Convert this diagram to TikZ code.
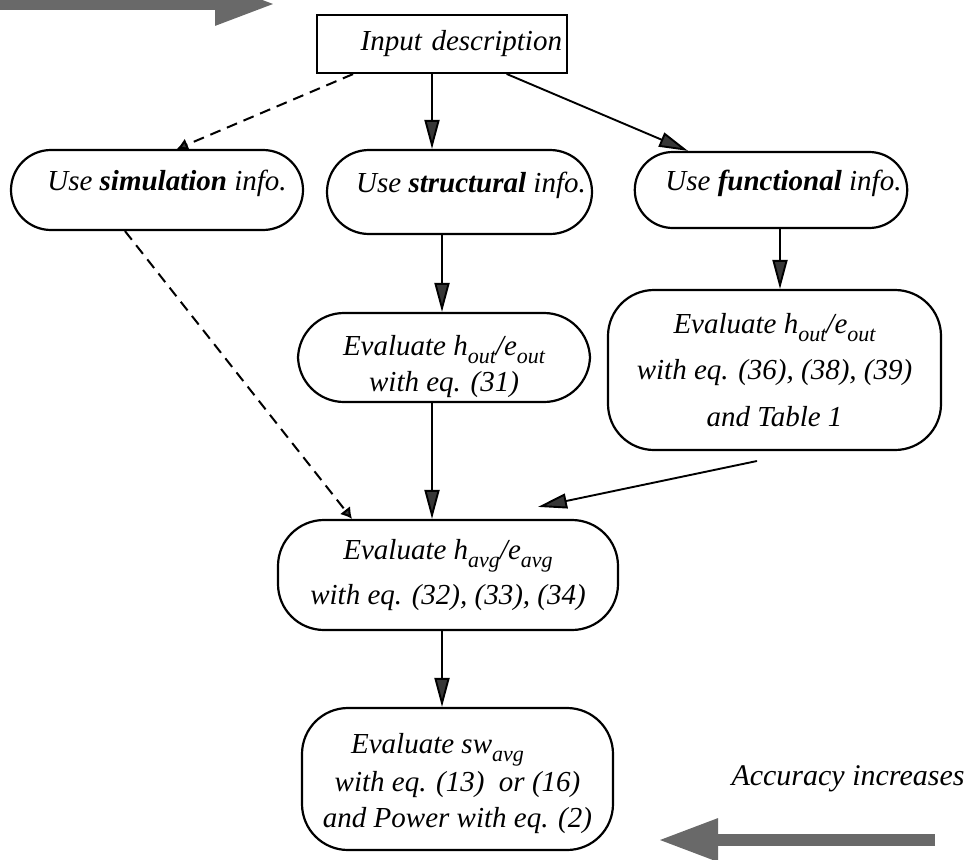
\documentclass[tikz,border=0pt]{standalone}
\usepackage{fontspec}
\setmainfont{Liberation Serif}
\usepackage{tikz}
\usetikzlibrary{calc, positioning, arrows.meta, shapes.misc}
\usepackage{xcolor}
\definecolor{mygray}{RGB}{105, 105, 105}
\definecolor{mydark}{RGB}{55, 55, 55}
\newcommand{\lowsub}[1]{\raisebox{-8pt}{\fontsize{22}{22}\selectfont #1}}

\begin{document}
\begin{tikzpicture}[
    x=1pt, y=1pt,
    font=\fontsize{29}{44}\selectfont\itshape,
    box_style/.style={draw, line width=2.2pt, inner ysep=0pt},
    info_style/.style={box_style, rounded rectangle, inner xsep=0pt,
      text height=20pt, text depth=20pt},
    eval_style/.style={box_style, rounded corners=46pt, align=center},
    arrow_style/.style={line width=1.9pt, line cap=round,
      -{Triangle[length=29pt,width=15pt,fill=mydark]}},
    dash_style/.style={line width=2pt, dash pattern=on 11pt off 7pt,
      -{Latex[length=11pt,width=13pt,fill=mydark]}},
    big_arrow/.style={line width=12pt, mygray,
      -{Triangle[length=60pt,width=40pt]}}
]
    \useasboundingbox (0,0) rectangle (971,-859);

    % --- Entrée ---
    \node[box_style, text width=240pt, inner xsep=5pt,
          minimum height=58pt, align=right] (inp) at (442,-44)
        {Input description};

    % --- Sources d'information ---
    \node[info_style, minimum width=292pt, minimum height=80pt]
        (sim) at (157,-190)
        {\hspace*{20pt}Use \textbf{simulation} info.};
    \node[info_style, minimum width=265pt, minimum height=84pt]
        (struct) at (459.5,-192)
        {\hspace*{23pt}Use \textbf{structural} info.};
    \node[info_style, minimum width=268pt, minimum height=76pt]
        (func) at (771,-190)
        {\hspace*{25pt}Use \textbf{functional} info.};

    % --- Évaluations ---
    \node[eval_style, minimum width=292pt, minimum height=89pt]
        (seval) at (444,-357.5)
        {\rule{0pt}{38pt}Evaluate h\lowsub{out}/e\lowsub{out}\\[-8pt]
         with eq. (31)};
    \node[eval_style, minimum width=333pt, minimum height=160pt]
        (feval) at (774.5,-370)
        {Evaluate h\lowsub{out}/e\lowsub{out}\\[2pt]
         with eq. (36), (38), (39)\\[3pt]
         and Table 1};
    \node[eval_style, minimum width=340pt, minimum height=110pt]
        (avg) at (448,-575)
        {Evaluate h\lowsub{avg}/e\lowsub{avg}\\[1pt]
         with eq. (32), (33), (34)};
    \node[eval_style, minimum width=311pt, minimum height=142pt]
        (sw) at (457.5,-779)
        {\rule{0pt}{30pt}Evaluate sw\lowsub{avg}\hspace*{40pt}\\[-6pt]
         with eq. (13)\ \ or (16)\\[-8pt]
         and Power with eq. (2)};

    % --- Connecteurs ---
    \draw[arrow_style] ([xshift=-10pt]inp.south)
        -- ([xshift=-10pt]inp.south |- struct.north);
    \draw[arrow_style] ([xshift=65pt]inp.south)
        -- ([xshift=-83pt]func.north);
    \draw[dash_style] ([xshift=-89pt]inp.south)
        -- ([xshift=20pt]sim.north);
    \draw[dash_style] ([xshift=-32pt]sim.south)
        -- ([xshift=-96pt]avg.north);
    \draw[arrow_style] ([xshift=-17.5pt]struct.south)
        -- ([xshift=-17.5pt]struct.south |- seval.north);
    \draw[arrow_style] ([xshift=9pt]func.south)
        -- ([xshift=9pt]func.south |- feval.north);
    \draw[arrow_style] ([xshift=-12pt]seval.south)
        -- ([xshift=-12pt]seval.south |- avg.north);
    \draw[arrow_style] ([xshift=-18pt,yshift=-10pt]feval.south)
        -- ([xshift=90pt,yshift=12pt]avg.north);
    \draw[arrow_style] ([xshift=-6pt]avg.south)
        -- ([xshift=-6pt]avg.south |- sw.north);

    % --- Flèches de précision ---
    \draw[big_arrow] (-10,-4) -- (275,-4);
    \draw[big_arrow] (935,-840) -- (658,-840);
    \node[anchor=base east, font=\fontsize{30}{36}\selectfont\itshape]
        (acc) at (968,-785) {Accuracy increases};

\end{tikzpicture}
\end{document}
